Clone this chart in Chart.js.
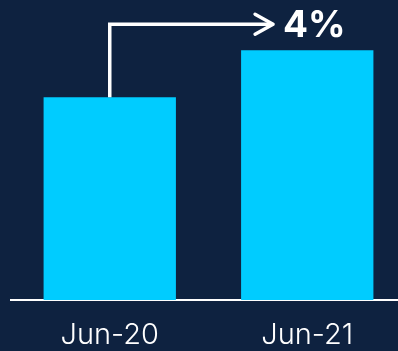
<!DOCTYPE html>
<html>
<head>
<meta charset="utf-8">
<script src="https://cdn.jsdelivr.net/npm/chart.js@4"></script>
<style>
  html, body { margin: 0; padding: 0; background: #0e2240; overflow: hidden; }
  #wrap { width: 398px; height: 351px; overflow: hidden; }
  #box { width: 406px; height: 351px; }
</style>
</head>
<body>
<div id="wrap"><div id="box"><canvas id="growthChart"></canvas></div></div>
<script>
const periods = ["Jun-20", "Jun-21"];
const values = [100, 104];
const growthLabel = "4%";
const arrowLevel = 106.2;

const ctx = document.getElementById("growthChart").getContext("2d");

// arrow from the first bar up and over towards the second, then the growth label
const growthArrow = {
  id: "growthArrow",
  afterDatasetsDraw(chart) {
    const meta = chart.getDatasetMeta(0);
    const y = chart.scales.y;
    const b0 = meta.data[0];
    const b1 = meta.data[1];
    const x0 = b0.x;
    const yTop = y.getPixelForValue(values[0]);
    const yLine = y.getPixelForValue(arrowLevel);
    const xEnd = b1.x - b1.width / 2 + 32;
    const c = chart.ctx;
    c.save();
    c.strokeStyle = "#ffffff";
    c.lineWidth = 3.5;
    c.lineJoin = "miter";
    c.beginPath();
    c.moveTo(x0, yTop);
    c.lineTo(x0, yLine);
    c.lineTo(xEnd - 2, yLine);
    c.stroke();
    c.lineCap = "round";
    c.lineJoin = "round";
    c.beginPath();
    c.moveTo(xEnd - 18, yLine - 10);
    c.lineTo(xEnd, yLine);
    c.lineTo(xEnd - 18, yLine + 10);
    c.stroke();
    c.fillStyle = "#ffffff";
    c.font = "bold 37px Inter, sans-serif";
    c.textBaseline = "alphabetic";
    c.textAlign = "left";
    c.fillText(growthLabel, xEnd + 10, yLine + 13);
    c.restore();
  }
};

new Chart(ctx, {
  type: "bar",
  data: {
    labels: periods,
    datasets: [{
      data: values,
      backgroundColor: "#00ccff",
      borderWidth: 0,
      barPercentage: 0.67,
      categoryPercentage: 1
    }]
  },
  options: {
    responsive: true,
    maintainAspectRatio: false,
    animation: false,
    layout: { padding: { left: 11, right: 0, top: 3, bottom: 0 } },
    plugins: {
      legend: { display: false },
      tooltip: { enabled: false }
    },
    scales: {
      x: {
        grid: { display: false, drawTicks: false },
        border: { display: true, color: "#ffffff", width: 2 },
        ticks: {
          color: "#ffffff",
          padding: 18,
          font: { family: "Inter, sans-serif", size: 29, weight: 300 }
        },
        afterFit(scale) { scale.height = 51; }
      },
      y: {
        display: false,
        min: 82.8,
        max: 108
      }
    }
  },
  plugins: [growthArrow]
});
</script>
</body>
</html>
